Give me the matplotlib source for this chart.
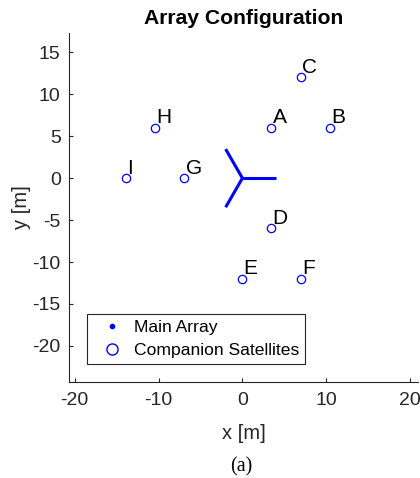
import numpy as np
import matplotlib
matplotlib.use("Agg")
import matplotlib.pyplot as plt
from matplotlib.lines import Line2D

# main array: three arms from the centre
arm_angles = [0, 120, 240]   # deg
arm_length = 4.0             # m

# companion satellites
sat_names = ["A", "B", "C", "D", "E", "F", "G", "H", "I"]
sat_x = [3.46, 10.39, 6.93, 3.46, 0.0, 6.93, -6.93, -10.39, -13.86]
sat_y = [6.0, 6.0, 12.0, -6.0, -12.0, -12.0, 0.0, 6.0, 0.0]

xticks = [-20, -10, 0, 10, 20]
yticks = [15, 10, 5, 0, -5, -10, -15, -20]

plt.rcParams["font.family"] = ["Liberation Sans", "DejaVu Sans"]
plt.rcParams["axes.unicode_minus"] = False
grey = "#262626"
blue = "#0000ff"

fig = plt.figure(figsize=(4.2, 4.78), dpi=100)
ax = fig.add_axes([0.1643, 0.2008, 0.831, 0.7301])

for a in arm_angles:
    t = np.deg2rad(a)
    ax.plot([0, arm_length * np.cos(t)], [0, arm_length * np.sin(t)],
            color=blue, lw=2.2, solid_capstyle="butt")

ax.plot(sat_x, sat_y, "o", ms=6, mfc="none", mec=blue, mew=0.9)

for name, x, y in zip(sat_names, sat_x, sat_y):
    ax.text(x + 0.15, y + 0.55, name, fontsize=15, va="baseline", ha="left")

ax.set_xlim(-20.67, 20.93)
ax.set_ylim(-24.3, 17.3)
ax.set_xticks(xticks)
ax.set_yticks(yticks)

for s in ["top", "right"]:
    ax.spines[s].set_visible(False)
for s in ["left", "bottom"]:
    ax.spines[s].set_color(grey)
    ax.spines[s].set_linewidth(0.8)

ax.tick_params(direction="in", length=3, width=0.8, colors=grey,
               labelsize=14)
ax.tick_params(axis="x", pad=7)
ax.tick_params(axis="y", pad=6)

ax.set_xlabel("x [m]", fontsize=14.5, color=grey, labelpad=11)
ax.set_ylabel("y [m]", fontsize=14.5, color=grey, labelpad=1)
ax.set_title("Array Configuration", fontsize=15.2, fontweight="bold", pad=6.5)

handles = [
    Line2D([], [], ls="none", marker=".", ms=6, color=blue),
    Line2D([], [], ls="none", marker="o", ms=8, mfc="none", mec=blue, mew=1.0),
]
leg = ax.legend(handles, ["Main Array", "Companion Satellites"],
                loc="lower left", bbox_to_anchor=(0.052, 0.052),
                borderaxespad=0, fontsize=12.6, fancybox=False,
                framealpha=1, edgecolor=grey, borderpad=0.35,
                handlelength=2.1, handletextpad=0.2, labelspacing=0.4)
leg.get_frame().set_linewidth(0.8)

fig.text(0.574, 0.014, "(a)", fontsize=14.5, family="Liberation Serif",
         ha="center", va="baseline")

fig.savefig("out.png", dpi=100)
